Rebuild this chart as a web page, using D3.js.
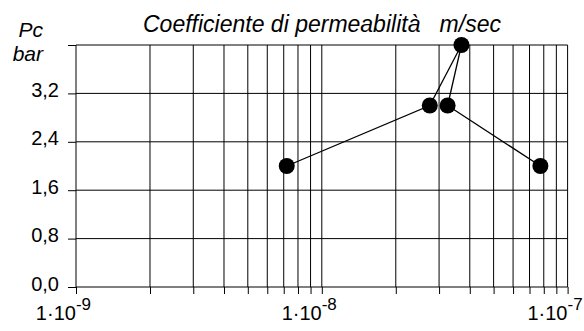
<!DOCTYPE html>
<html>
<head>
<meta charset="utf-8">
<script src="https://cdn.jsdelivr.net/npm/d3@7"></script>
<style>
  html, body { margin: 0; padding: 0; background: #fff; }
  svg { display: block; }
  text { font-family: "Liberation Sans", Arial, sans-serif; fill: #000; }
</style>
</head>
<body>
<svg id="chart" width="584" height="331"></svg>
<script>
// Permeability coefficient (m/sec) against pressure Pc (bar), in drawing order
const permeability = [7.2e-9, 2.75e-8, 3.7e-8, 3.25e-8, 7.75e-8];
const pressure = [2.0, 3.0, 4.0, 3.0, 2.0];

const yTicks = [0.0, 0.8, 1.6, 2.4, 3.2, 4.0];
const yTickLabels = ["0,0", "0,8", "1,6", "2,4", "3,2", ""];
const decadeExponents = [-9, -8, -7];

const titleText = "Coefficiente di permeabilità   m/sec";
const yUnitLines = ["Pc", "bar"];

const svg = d3.select("#chart");
const margin = { left: 76, right: 16.4, top: 45, bottom: 44 };
const W = 584, H = 331;

const x = d3.scaleLog()
  .domain([1e-9, 1e-7])
  .range([margin.left, W - margin.right]);
const y = d3.scaleLinear()
  .domain([0, 4.0])
  .range([H - margin.bottom, margin.top]);

// every 1..9 multiple inside the two decades
const minorTicks = [];
decadeExponents.slice(0, -1).forEach(e => {
  for (let m = 1; m <= 9; m++) minorTicks.push(m * Math.pow(10, e));
});
minorTicks.push(1e-7);

// vertical grid lines
svg.append("g")
  .selectAll("line")
  .data(minorTicks)
  .join("line")
  .attr("x1", d => x(d)).attr("x2", d => x(d))
  .attr("y1", y(4.0)).attr("y2", y(0))
  .attr("stroke", "#000").attr("stroke-width", 1);

// horizontal grid lines
svg.append("g")
  .selectAll("line")
  .data(yTicks)
  .join("line")
  .attr("x1", x(1e-9)).attr("x2", x(1e-7))
  .attr("y1", d => y(d)).attr("y2", d => y(d))
  .attr("stroke", "#000").attr("stroke-width", 1);

// bottom axis: short ticks at each grid position
const xAxis = d3.axisBottom(x)
  .tickValues(minorTicks)
  .tickSize(7)
  .tickFormat("");
const gx = svg.append("g")
  .attr("transform", `translate(0,${y(0)})`)
  .call(xAxis);
gx.select(".domain").remove();
gx.selectAll(".tick line").attr("stroke", "#000");

// decade labels 1·10^n
const decLabels = svg.append("g")
  .selectAll("text")
  .data(decadeExponents)
  .join("text")
  .attr("x", d => x(Math.pow(10, d)) + 15)
  .attr("y", 320)
  .attr("text-anchor", "end")
  .style("font-size", "20px");
decLabels.append("tspan").text("1·10");
decLabels.append("tspan")
  .attr("dy", -10)
  .style("font-size", "17px")
  .text(d => String(d));

// left axis
const yAxis = d3.axisLeft(y)
  .tickValues(yTicks)
  .tickSize(8)
  .tickPadding(9)
  .tickFormat((d, i) => yTickLabels[i]);
const gy = svg.append("g")
  .attr("transform", `translate(${x(1e-9)},0)`)
  .call(yAxis);
gy.select(".domain").remove();
gy.selectAll(".tick line").attr("stroke", "#000");
gy.selectAll(".tick text")
  .attr("dy", null)
  .attr("y", 3)
  .style("font-size", "20px")
  .style("font-family", "'Liberation Sans', Arial, sans-serif")
  .attr("fill", "#000");

// unit label at the top left
svg.append("g")
  .selectAll("text")
  .data(yUnitLines)
  .join("text")
  .attr("x", 43)
  .attr("y", (d, i) => 37 + i * 24)
  .attr("text-anchor", "end")
  .style("font-size", "21px")
  .style("font-style", "italic")
  .text(d => d);

// title
svg.append("text")
  .attr("x", 143)
  .attr("y", 31.5)
  .attr("xml:space", "preserve")
  .style("white-space", "pre")
  .style("font-size", "23px")
  .style("font-style", "italic")
  .text(titleText);

// connecting line and markers
const pts = permeability.map((k, i) => [k, pressure[i]]);
svg.append("path")
  .datum(pts)
  .attr("fill", "none")
  .attr("stroke", "#000")
  .attr("stroke-width", 1.3)
  .attr("d", d3.line().x(d => x(d[0])).y(d => y(d[1])));

svg.append("g")
  .selectAll("circle")
  .data(pts)
  .join("circle")
  .attr("cx", d => x(d[0]))
  .attr("cy", d => y(d[1]))
  .attr("r", 8)
  .attr("fill", "#000");
</script>
</body>
</html>
